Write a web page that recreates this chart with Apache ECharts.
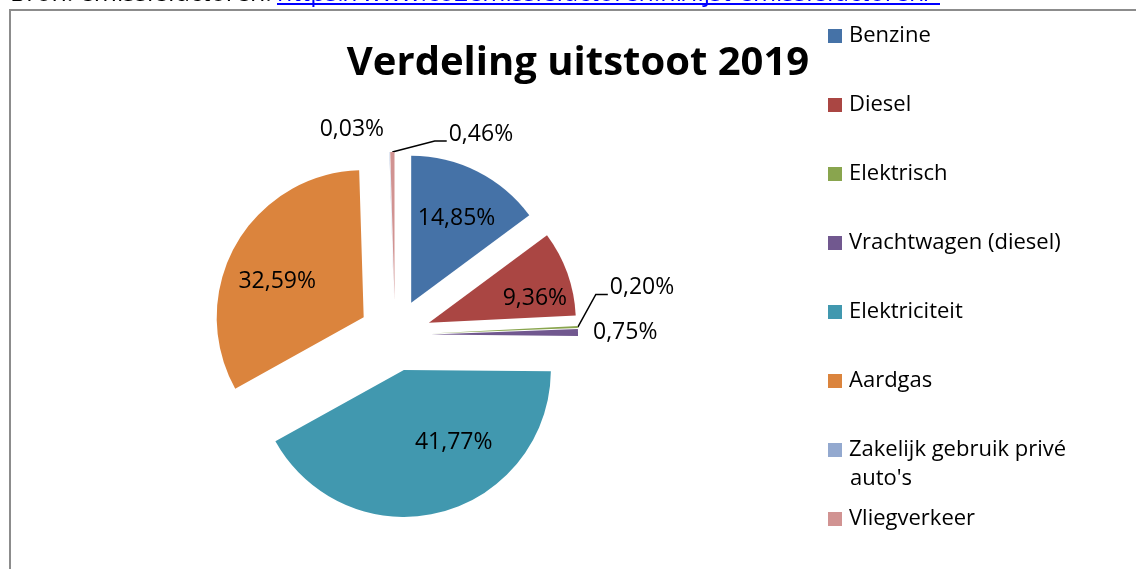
<!DOCTYPE html>
<html lang="nl">
<head>
    <meta charset="UTF-8">
    <title>Verdeling uitstoot 2019</title>
    <style>
        html, body { margin: 0; padding: 0; background: #fff; }
    </style>
</head>
<body>
<div id="container" style="width:1136px;height:569px"></div>

<script type="text/javascript" src="https://cdn.jsdelivr.net/npm/echarts@6/dist/echarts.min.js"></script>
<script type="text/javascript">
    var categories = ['Benzine', 'Diesel', 'Elektrisch', 'Vrachtwagen (diesel)', 'Elektriciteit', 'Aardgas', "Zakelijk gebruik privé auto's", 'Vliegverkeer'];
    var shares = [14.85, 9.36, 0.20, 0.75, 41.77, 32.59, 0.03, 0.46];
    var colors = ['#4572a7', '#aa4643', '#89a54e', '#71588f', '#4198af', '#db843d', '#93a9cf', '#d19392'];

    var titleText = 'Verdeling uitstoot 2019';
    var sourceText = 'Bron: emissiefactoren:';
    var sourceLink = 'https://www.co2emissiefactoren.nl/lijst-emissiefactoren/';

    var fontName = 'Open Sans';
    var smallSlices = [2, 3, 6, 7];        // labels buiten de taart
    var withLeader = [2, 7];               // met verbindingslijn
    // kleine verschuivingen van de labels t.o.v. de standaardplek
    var labelNudge = {
        0: [11, -16],
        1: [34, 1],
        4: [31, -2],
        5: [-20, 2],
        2: [0, -39],
        3: [-17, 0],
        6: [12, -8],
        7: [138, -3]
    };

    function pct(v) {
        return v.toFixed(2).replace('.', ',') + '%';
    }

    var pieData = categories.map(function (name, i) {
        var outside = smallSlices.indexOf(i) >= 0;
        return {
            name: name,
            value: shares[i],
            selected: true,
            itemStyle: {color: colors[i]},
            label: {position: outside ? 'outside' : 'inside'},
            labelLine: {show: withLeader.indexOf(i) >= 0}
        };
    });

    var dom = document.getElementById('container');
    var myChart = echarts.init(dom);

    myChart.setOption({
        animation: false,
        backgroundColor: '#fff',
        title: {
            text: titleText,
            left: 573,
            top: 39,
            textAlign: 'center',
            textStyle: {
                fontFamily: fontName,
                fontWeight: 'bold',
                fontSize: 40,
                color: '#000'
            }
        },
        legend: {
            orient: 'vertical',
            left: 828,
            top: 24,
            padding: 0,
            icon: 'rect',
            itemWidth: 14,
            itemHeight: 14,
            itemGap: 45,
            selectedMode: false,
            data: categories,
            formatter: function (name) {
                return name === categories[6] ? 'Zakelijk gebruik privé' : name;
            },
            textStyle: {
                fontFamily: fontName,
                fontSize: 22,
                lineHeight: 24,
                color: '#000',
                padding: [0, 0, 0, 2]
            }
        },
        graphic: [
            {
                type: 'rect',
                shape: {x: 10, y: 10, width: 1400, height: 800},
                style: {fill: null, stroke: '#8c8c8c', lineWidth: 2},
                silent: true,
                z: -1
            },
            {
                type: 'text',
                left: 850,
                top: 468,
                style: {text: "auto's", font: '22px "Open Sans"', fill: '#000'}
            },
            {
                type: 'text',
                left: 10,
                top: -19,
                style: {text: sourceText, font: '25px "Open Sans"', fill: '#000'}
            },
            {
                type: 'text',
                left: 277,
                top: -19,
                style: {text: sourceLink, font: '25px "Open Sans"', fill: '#0000ff'}
            },
            {
                type: 'line',
                shape: {x1: 277, y1: 4, x2: 940, y2: 4},
                style: {stroke: '#0000ff', lineWidth: 2}
            }
        ],
        series: [{
            type: 'pie',
            center: [395, 335],
            radius: [0, 147],
            startAngle: 90,
            clockwise: true,
            selectedMode: 'multiple',
            selectedOffset: 36,
            avoidLabelOverlap: false,
            emphasis: {disabled: true},
            label: {
                fontFamily: fontName,
                fontSize: 23,
                color: '#000',
                formatter: function (p) {
                    return pct(p.value);
                }
            },
            labelLine: {
                length: 15,
                length2: 12,
                lineStyle: {color: '#000', width: 1.5}
            },
            labelLayout: function (params) {
                var n = labelNudge[params.dataIndex] || [0, 0];
                var res = {dx: n[0], dy: n[1]};
                if (params.labelLinePoints && withLeader.indexOf(params.dataIndex) >= 0) {
                    var r = params.labelRect;
                    var anchor = params.labelLinePoints[0];
                    var ex = r.x + n[0] - 2;
                    var ey = r.y + n[1] + r.height / 2 + 7;
                    res.labelLinePoints = [anchor, [ex - 12, ey], [ex, ey]];
                }
                return res;
            },
            data: pieData
        }]
    });
</script>
</body>
</html>
